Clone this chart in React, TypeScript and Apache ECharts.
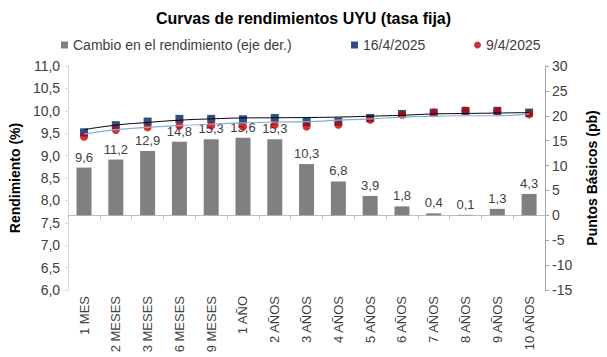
import React, { useEffect, useRef } from "react";
import * as echarts from "echarts";

const categories = ["1 MES", "2 MESES", "3 MESES", "6 MESES", "9 MESES", "1 AÑO", "2 AÑOS", "3 AÑOS", "4 AÑOS", "5 AÑOS", "6 AÑOS", "7 AÑOS", "8 AÑOS", "9 AÑOS", "10 AÑOS"];
const changeBp = [9.6, 11.2, 12.9, 14.8, 15.3, 15.6, 15.3, 10.3, 6.8, 3.9, 1.8, 0.4, 0.1, 1.3, 4.3];
const yield16Apr = [9.52, 9.68, 9.76, 9.82, 9.82, 9.81, 9.84, 9.75, 9.76, 9.84, 9.93, 9.96, 10.0, 10.0, 9.96];
const yield9Apr = [9.42, 9.57, 9.63, 9.67, 9.67, 9.65, 9.69, 9.65, 9.69, 9.8, 9.91, 9.96, 10.0, 9.99, 9.92];
const trend16Apr = [9.58, 9.68, 9.74, 9.79, 9.82, 9.84, 9.845, 9.85, 9.86, 9.88, 9.9, 9.93, 9.94, 9.95, 9.96];
const trend9Apr = [9.48, 9.58, 9.63, 9.67, 9.7, 9.73, 9.75, 9.76, 9.79, 9.82, 9.86, 9.88, 9.89, 9.89, 9.93];

const FONT = "'Liberation Sans', Arial, sans-serif";
const comma = (v: number, d: number) => v.toFixed(d).replace(".", ",");

const legendBase = {
  top: 33,
  itemWidth: 7,
  itemHeight: 7,
  itemGap: 10,
  textStyle: { fontSize: 14, color: "#404040", fontFamily: FONT },
};

export default function App() {
  const ref = useRef<HTMLDivElement>(null);
  useEffect(() => {
    document.body.style.margin = "0";
    if (!ref.current) return;
    const chart = echarts.init(ref.current, undefined, { renderer: "svg" });
    chart.setOption({
      animation: false,
      backgroundColor: "#ffffff",
      textStyle: { fontFamily: FONT },
      title: {
        text: "Curvas de rendimientos UYU (tasa fija)",
        left: "center",
        top: 5,
        textStyle: { fontSize: 16, fontWeight: "bold", color: "#000000", fontFamily: FONT },
      },
      legend: [
        { ...legendBase, left: 56, data: [{ name: "Cambio en el rendimiento (eje der.)", icon: "rect" }] },
        { ...legendBase, left: 346, data: [{ name: "16/4/2025", icon: "rect" }] },
        { ...legendBase, left: 469, data: [{ name: "9/4/2025", icon: "circle" }] },
      ],
      grid: { left: 55, right: 61, top: 66, bottom: 67 },
      xAxis: {
        type: "category",
        data: categories,
        boundaryGap: true,
        axisLine: { lineStyle: { color: "#bfbfbf" } },
        axisTick: { show: true, length: 4, lineStyle: { color: "#bfbfbf" } },
        axisLabel: { rotate: 90, fontSize: 13, color: "#404040", margin: 6, fontFamily: FONT, interval: 0 },
      },
      yAxis: [
        {
          type: "value",
          min: 6,
          max: 11,
          interval: 0.5,
          name: "Rendimiento (%)",
          nameLocation: "middle",
          nameGap: 42,
          nameTextStyle: { fontSize: 14, fontWeight: "bold", color: "#000000", fontFamily: FONT },
          axisLine: { show: true, lineStyle: { color: "#d9d9d9" } },
          axisTick: { show: true, length: 3, lineStyle: { color: "#d9d9d9" } },
          axisLabel: { fontSize: 14, color: "#404040", margin: 8, formatter: (v: number) => comma(v, 1), fontFamily: FONT },
          splitLine: { show: false },
        },
        {
          type: "value",
          min: -15,
          max: 30,
          interval: 5,
          position: "right",
          name: "Puntos Básicos (pb)",
          nameLocation: "middle",
          nameGap: 40,
          nameTextStyle: { fontSize: 14, fontWeight: "bold", color: "#000000", fontFamily: FONT },
          axisLine: { show: true, lineStyle: { color: "#a6a6a6" } },
          axisTick: { show: true, length: 4, lineStyle: { color: "#a6a6a6" } },
          axisLabel: { fontSize: 14, color: "#404040", margin: 7, fontFamily: FONT },
          splitLine: { show: false },
        },
      ],
      series: [
        {
          name: "Cambio en el rendimiento (eje der.)",
          type: "bar",
          yAxisIndex: 1,
          data: changeBp,
          barWidth: 15,
          itemStyle: { color: "#808080" },
          label: {
            show: true,
            position: "top",
            distance: 4,
            fontSize: 13,
            color: "#404040",
            fontFamily: FONT,
            formatter: (p: any) => comma(p.value, 1),
          },
        },
        {
          name: "trend16",
          type: "line",
          yAxisIndex: 0,
          data: trend16Apr,
          smooth: true,
          symbol: "none",
          lineStyle: { color: "#000000", width: 1 },
          itemStyle: { color: "#000000" },
        },
        {
          name: "trend9",
          type: "line",
          yAxisIndex: 0,
          data: trend9Apr,
          smooth: true,
          symbol: "none",
          lineStyle: { color: "#7fb0da", width: 1.2 },
          itemStyle: { color: "#7fb0da" },
        },
        {
          name: "16/4/2025",
          type: "scatter",
          yAxisIndex: 0,
          data: yield16Apr,
          symbol: "rect",
          symbolSize: 8,
          itemStyle: { color: "#002060" },
        },
        {
          name: "9/4/2025",
          type: "scatter",
          yAxisIndex: 0,
          data: yield9Apr,
          symbol: "circle",
          symbolSize: 8,
          itemStyle: { color: "#c00000" },
        },
      ],
    });
    return () => chart.dispose();
  }, []);
  return <div ref={ref} style={{ width: 607, height: 357 }} />;
}
